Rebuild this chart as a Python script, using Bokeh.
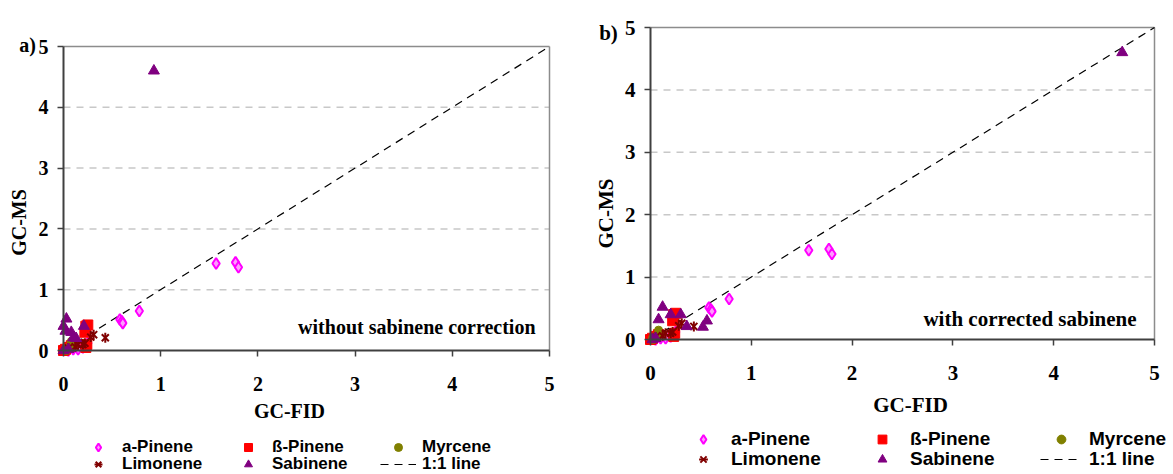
import math
from bokeh.plotting import figure
from bokeh.layouts import row
from bokeh.models import Range1d, FixedTicker, Label, Legend, LegendItem
from bokeh.embed import file_html
from bokeh.resources import INLINE

# GC-FID (x) vs GC-MS (y) concentrations per compound
apinene_fid = [1.57, 1.77, 1.80, 0.58, 0.60, 0.61, 0.78, 0.25, 0.20, 0.15, 0.10, 0.05]
apinene_ms = [1.43, 1.45, 1.37, 0.51, 0.48, 0.45, 0.65, 0.12, 0.05, 0.02, 0.02, 0.00]

bpinene_fid = [0.23, 0.25, 0.22, 0.24, 0.23, 0.02, 0.05, 0.00, 0.08]
bpinene_ms = [0.40, 0.42, 0.30, 0.10, 0.05, 0.02, 0.05, 0.00, 0.08]

myrcene_fid = [0.02, 0.05, 0.10, 0.03, 0.08]
myrcene_ms = [0.02, 0.05, 0.08, 0.00, 0.15]

limonene_fid = [0.43, 0.31, 0.28, 0.22, 0.20, 0.15, 0.12, 0.05]
limonene_ms = [0.21, 0.26, 0.22, 0.12, 0.10, 0.10, 0.06, 0.04]

sabinene_ms = [0.52, 0.40, 0.40, 0.32, 0.30, 0.21, 0.20, 0.02, 0.00, 4.60]
sabinene_fid_raw = [0.03, 0.21, 0.00, 0.02, 0.08, 0.10, 0.13, 0.05, 0.00, 0.93]
sabinene_fid_corr = [0.12, 0.20, 0.30, 0.08, 0.56, 0.36, 0.52, 0.05, 0.02, 4.68]

axis_ticks = [0, 1, 2, 3, 4, 5]
one_to_one = [0, 5]

SERIF = "Liberation Serif"
SANS = "Liberation Sans"


class Panel:
    """Pixel geometry of one panel: canvas size and where 0 and 5 land on each axis."""

    def __init__(self, w, h, x0, x5, y0, y5):
        self.w, self.h = w, h
        self.x0, self.x5, self.y0, self.y5 = x0, x5, y0, y5
        self.kx = (x5 - x0) / 5.0
        self.ky = (y0 - y5) / 5.0

    def x_range(self):
        return Range1d(-self.x0 / self.kx, (self.w - self.x0) / self.kx)

    def y_range(self):
        return Range1d(-(self.h - self.y0) / self.ky, self.y0 / self.ky)

    def at(self, px, py):
        # canvas pixel (from top-left) -> data coordinate
        return (px - self.x0) / self.kx, (self.y0 - py) / self.ky


def bold_label(geo, px, py, text, size, align="center", baseline="middle", angle=0.0,
               font=SERIF):
    x, y = geo.at(px, py)
    return Label(x=x, y=y, text=text, angle=angle, text_font=font,
                 text_font_style="bold", text_font_size=size, text_color="black",
                 text_align=align, text_baseline=baseline)


def make_panel(geo, sab_fid, texts, legend_cfg):
    p = figure(width=geo.w, height=geo.h, output_backend="svg", toolbar_location=None,
               x_range=geo.x_range(), y_range=geo.y_range(),
               min_border=0, min_border_left=0, min_border_right=0,
               min_border_top=0, min_border_bottom=0)
    p.outline_line_color = None
    p.background_fill_color = "white"
    p.border_fill_color = "white"
    p.grid.visible = False

    lo, hi = axis_ticks[0], axis_ticks[-1]
    inner = axis_ticks[1:-1]
    # dashed horizontal gridlines across the plot area
    p.segment(x0=[lo] * len(inner), y0=inner, x1=[hi] * len(inner), y1=inner,
              line_color="#c8c8c8", line_width=1.5, line_dash="7 6")
    # top and right edges of the plot area
    p.segment(x0=[lo, hi], y0=[hi, lo], x1=[hi, hi], y1=[hi, hi],
              line_color="#8c8c8c", line_width=1.5)

    tag, ms_pos, fid_pos, note, size = texts
    for ax in (p.xaxis[0], p.yaxis[0]):
        ax.fixed_location = 0
        ax.bounds = (lo, hi)
        ax.ticker = FixedTicker(ticks=axis_ticks)
        ax.minor_tick_line_color = None
        ax.major_tick_in = 0
        ax.major_tick_out = 6
        ax.axis_line_color = "#404040"
        ax.axis_line_width = 2
        ax.major_tick_line_color = "#404040"
        ax.major_tick_line_width = 1.5
        ax.major_label_text_font = SERIF
        ax.major_label_text_font_style = "bold"
        ax.major_label_text_font_size = size
        ax.major_label_text_color = "black"
    p.xaxis.major_label_standoff = 20
    p.yaxis.major_label_standoff = 9

    line = p.line(one_to_one, one_to_one, line_color="black", line_width=1.2,
                  line_dash="8 6")
    ra = p.scatter(apinene_fid, apinene_ms, marker="diamond", size=11,
                   fill_color="#ff9cff", line_color="#ff00ff", line_width=2)
    rb = p.scatter(bpinene_fid, bpinene_ms, marker="square", size=10,
                   fill_color="#ff0000", line_color="#ff0000")
    rm = p.scatter(myrcene_fid, myrcene_ms, marker="circle", size=8,
                   fill_color="#808000", line_color="#808000")
    rl1 = p.scatter(limonene_fid, limonene_ms, marker="x", size=10,
                    line_color="#800000", line_width=2)
    rl2 = p.scatter(limonene_fid, limonene_ms, marker="dash", size=10, angle=math.pi / 2,
                    line_color="#800000", line_width=2)
    rs = p.scatter(sab_fid, sabinene_ms, marker="triangle", size=11,
                   fill_color="#800080", line_color="#800080")

    p.add_layout(bold_label(geo, tag[0], tag[1], tag[2], size, baseline="alphabetic"))
    p.add_layout(bold_label(geo, ms_pos[0], ms_pos[1], "GC-MS", size, angle=math.pi / 2))
    p.add_layout(bold_label(geo, fid_pos[0], fid_pos[1], "GC-FID", size))
    p.add_layout(bold_label(geo, note[0], note[1], note[2], note[3], align="right"))

    rows = [
        [("a-Pinene", [ra]), ("ß-Pinene", [rb]), ("Myrcene", [rm])],
        [("Limonene", [rl1, rl2]), ("Sabinene", [rs]), ("1:1 line", [line])],
    ]
    x_left, row_bottoms, glyph_w, glyph_h, standoff, label_w, font_size = legend_cfg
    for items, yb in zip(rows, row_bottoms):
        lg = Legend(items=[LegendItem(label=t, renderers=rr) for t, rr in items],
                    orientation="horizontal", location=(x_left, geo.h - yb),
                    padding=0, margin=0, spacing=8,
                    glyph_width=glyph_w, glyph_height=glyph_h, label_standoff=standoff,
                    label_width=label_w, label_height=16,
                    label_text_font=SANS, label_text_font_style="bold",
                    label_text_font_size=font_size, label_text_color="black",
                    border_line_color=None, background_fill_alpha=0)
        p.add_layout(lg, "center")
    return p


geo_a = Panel(590, 474, 63, 549, 350, 46)
geo_b = Panel(583, 474, 60, 564, 339, 27)

pa = make_panel(geo_a, sabinene_fid_raw,
                ((27, 44, "a)"), (18, 222), (289, 410),
                 (535, 326, "without sabinene correction", "20px"), "20px"),
                (80, (457, 474), 36, 20, 6, 100, "17px"))
pb = make_panel(geo_b, sabinene_fid_corr,
                ((18, 32, "b)"), (15, 213), (320, 404),
                 (546, 318, "with corrected sabinene", "21px"), "21px"),
                (92, (450, 470), 42, 22, 7, 122, "19px"))

layout = row(pa, pb, spacing=0)
open("out.html", "w").write(file_html(layout, INLINE))
